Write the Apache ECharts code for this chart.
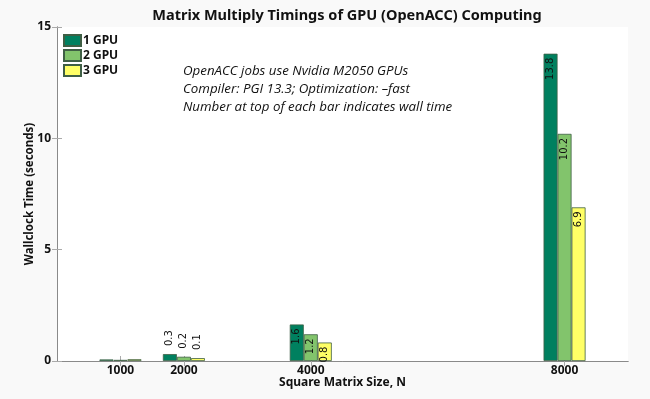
<!DOCTYPE html>
<html>
<head>
<meta charset="utf-8">
<script src="https://cdn.jsdelivr.net/npm/echarts@6/dist/echarts.min.js"></script>
<style>
  html, body { margin: 0; padding: 0; background: #f9f9f9; }
  #chart { width: 650px; height: 399px; }
</style>
</head>
<body>
<div id="chart"></div>
<script>
const sizes = [1000, 2000, 4000, 8000]
const gpu1 = [0.07, 0.31, 1.64, 13.8]
const gpu2 = [0.05, 0.19, 1.2, 10.2]
const gpu3 = [0.08, 0.13, 0.83, 6.9]
const seriesNames = ['1 GPU', '2 GPU', '3 GPU']
const colors = ['#00805f', '#82c46c', '#ffff66']
const yTicks = [0, 5, 10, 15]
const notes = [
  'OpenACC jobs use Nvidia M2050 GPUs',
  'Compiler: PGI 13.3; Optimization: \u2013fast',
  'Number at top of each bar indicates wall time'
]

const boldFont = 'Noto Sans'

function barData(values) {
  return values.map((v, i) => {
    const x = sizes[i]
    if (x === 1000) return { value: [x, v], label: { show: false } }
    if (v < 0.5) {
      return { value: [x, v], label: { show: true, position: 'top', align: 'left', verticalAlign: 'middle', distance: 8 } }
    }
    return { value: [x, v], label: { show: true, position: 'insideTop', align: 'right', verticalAlign: 'middle', distance: 4 } }
  })
}

const chart = echarts.init(document.getElementById('chart'))
const axisLine = { show: true, lineStyle: { color: '#8a8a8a', width: 1 } }
const tick = { show: true, inside: true, length: 5, lineStyle: { color: '#aaa' } }

const option = {
  backgroundColor: '#f9f9f9',
  animation: false,
  title: {
    text: 'Matrix Multiply Timings of GPU (OpenACC) Computing',
    left: 342,
    textAlign: 'center',
    top: 3,
    textStyle: { fontFamily: boldFont, fontWeight: 'bold', fontSize: 14.5, color: '#111' }
  },
  legend: {
    data: seriesNames,
    orient: 'vertical',
    left: 63,
    top: 34,
    padding: 0,
    itemWidth: 17,
    itemHeight: 11,
    itemGap: 2,
    icon: 'rect',
    textStyle: { fontFamily: boldFont, fontWeight: 'bold', fontSize: 12, color: '#111', padding: [0, 0, 0, -3] }
  },
  graphic: [{
    type: 'text',
    left: 183,
    top: 62,
    style: {
      text: notes.join('\n'),
      font: 'italic 13.3px "Open Sans"',
      lineHeight: 18,
      fill: '#111'
    }
  }],
  grid: { left: 57, right: 22, top: 27, bottom: 38, show: true, backgroundColor: '#fff', borderWidth: 0 },
  xAxis: [{
    type: 'value',
    min: 0,
    max: 9000,
    name: 'Square Matrix Size, N',
    nameLocation: 'middle',
    nameGap: 16,
    nameMoveOverlap: false,
    nameTextStyle: { fontFamily: boldFont, fontWeight: 'bold', fontSize: 12, color: '#111' },
    axisLine: axisLine,
    axisTick: Object.assign({ customValues: sizes }, tick),
    axisLabel: { customValues: sizes, margin: 4, formatter: v => String(v), fontFamily: boldFont, fontWeight: 'bold', fontSize: 12, color: '#111' },
    splitLine: { show: false }
  }, {
    type: 'value',
    position: 'top',
    min: 0,
    max: 9000,
    axisLine: axisLine,
    axisTick: Object.assign({ customValues: sizes }, tick),
    axisLabel: { show: false },
    splitLine: { show: false }
  }],
  yAxis: [{
    type: 'value',
    min: 0,
    max: 15,
    interval: 5,
    name: 'Wallclock Time (seconds)',
    nameLocation: 'middle',
    nameGap: 21,
    nameMoveOverlap: false,
    nameTextStyle: { fontFamily: boldFont, fontWeight: 'bold', fontSize: 11.5, color: '#111' },
    axisLine: axisLine,
    axisTick: Object.assign({ customValues: yTicks }, tick),
    axisLabel: { margin: 6, fontFamily: boldFont, fontWeight: 'bold', fontSize: 12, color: '#111' },
    splitLine: { show: false }
  }, {
    type: 'value',
    position: 'right',
    min: 0,
    max: 15,
    interval: 5,
    axisLine: axisLine,
    axisTick: tick,
    axisLabel: { show: false },
    splitLine: { show: false }
  }],
  series: [gpu1, gpu2, gpu3].map((vals, k) => ({
    name: seriesNames[k],
    type: 'bar',
    xAxisIndex: 0,
    yAxisIndex: 0,
    barWidth: 14,
    barGap: '0%',
    itemStyle: { color: colors[k], borderColor: '#3f5f45', borderWidth: 0.8 },
    label: {
      rotate: 90,
      fontFamily: 'DejaVu Sans',
      fontSize: 10,
      color: '#111',
      formatter: p => p.value[1].toFixed(1)
    },
    data: barData(vals)
  }))
}
chart.setOption(option)
</script>
</body>
</html>
